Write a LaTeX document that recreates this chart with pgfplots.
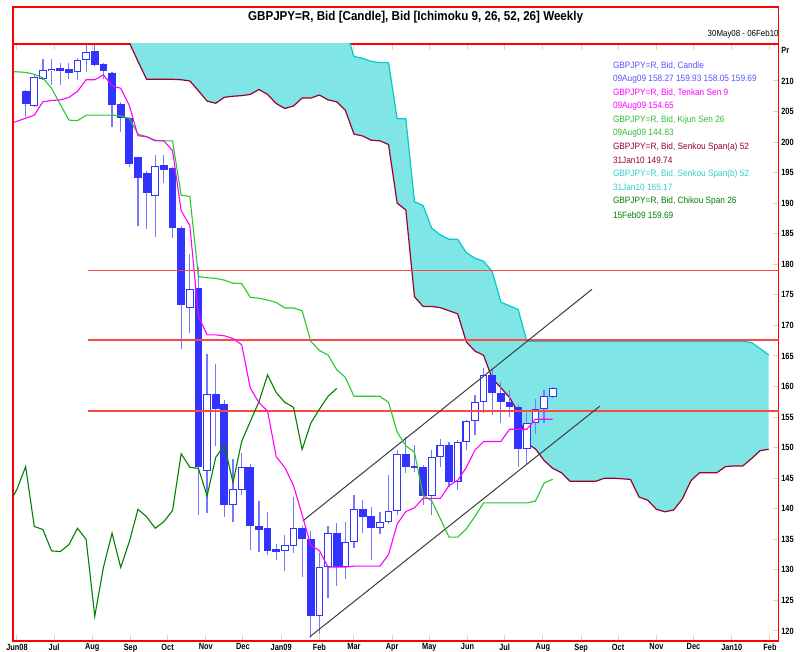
\documentclass[border=0pt]{standalone}
\usepackage{fontspec}
\setmainfont{Liberation Sans}
\newfontfamily\nf[FakeStretch=0.9]{Liberation Sans}
\newfontfamily\tf[FakeStretch=0.82]{Liberation Sans}
\usepackage{pgfplots}
\pgfplotsset{compat=1.18}
\usepackage{pgfplotstable}
\usepgfplotslibrary{fillbetween}

\definecolor{cblue}{RGB}{51,51,255}
\definecolor{wblue}{RGB}{120,120,255}
\definecolor{tenkan}{RGB}{255,0,255}
\definecolor{kijun}{RGB}{40,200,40}
\definecolor{spana}{RGB}{153,0,51}
\definecolor{spanb}{RGB}{0,204,204}
\definecolor{chikou}{RGB}{0,128,0}
\definecolor{cloud}{RGB}{127,229,229}
\definecolor{hline}{RGB}{255,70,70}
\definecolor{framered}{RGB}{255,0,0}
\definecolor{tickc}{RGB}{255,204,153}
\definecolor{legblue}{RGB}{85,85,255}
\definecolor{legmag}{RGB}{255,0,255}
\definecolor{leggreen}{RGB}{51,187,51}
\definecolor{legmaroon}{RGB}{153,0,51}
\definecolor{legcyan}{RGB}{51,204,204}
\definecolor{legdgreen}{RGB}{0,128,0}
\definecolor{chan}{RGB}{60,60,60}

% weekly candles, w = week index (0 = 08Jun08 ... 61 = 09Aug09)
\pgfplotstableread{
w o h l c
0 208.4 208.6 204.1 206.2
1 205.9 210.9 205.7 210.7
2 210.4 213.6 210.2 211.8
3 211.7 213.6 209.3 211.9
4 212.1 212.9 209.3 211.7
5 211.9 213.0 210.4 211.3
6 211.4 213.7 210.2 213.4
7 213.4 215.9 211.5 214.8
8 214.9 215.9 212.4 212.6
9 212.8 212.9 210.4 211.7
10 211.3 211.4 202.5 206.1
11 206.2 206.6 201.7 203.9
12 203.9 204.1 196.0 196.4
13 197.5 197.6 186.2 194.1
14 195.0 195.2 185.8 191.7
15 191.2 197.9 184.5 196.1
16 196.3 197.9 193.3 195.5
17 195.7 195.9 184.3 185.9
18 186.0 186.2 166.1 173.4
19 172.9 181.7 168.7 175.9
20 176.2 179.6 139.0 146.9
21 146.2 165.4 139.3 158.7
22 158.8 163.7 150.2 156.4
23 157.2 157.8 138.7 140.6
24 140.6 148.2 137.8 143.2
25 143.1 149.1 142.3 146.9
26 146.9 147.4 133.3 137.1
27 137.1 141.2 133.0 136.6
28 136.8 139.5 132.4 133.1
29 133.4 134.3 131.6 133.0
30 133.1 135.7 129.8 134.1
31 133.9 142.0 132.8 136.8
32 136.8 137.2 128.9 135.0
33 135.1 136.3 118.9 122.4
34 122.4 132.7 119.5 130.4
35 130.4 137.1 125.4 136.0
36 136.0 137.7 127.3 130.4
37 130.4 137.9 128.5 134.6
38 134.6 142.3 133.5 139.9
39 139.9 141.4 136.0 138.7
40 138.8 140.3 131.6 136.8
41 136.8 139.5 135.8 137.9
42 137.9 145.5 137.5 139.7
43 139.7 149.6 139.0 149.0
44 149.0 151.8 145.8 146.8
45 147.0 150.4 146.0 146.6
46 146.8 147.2 140.6 142.1
47 142.1 149.6 139.0 148.4
48 148.4 151.4 146.9 150.4
49 150.4 151.0 143.6 144.3
50 144.3 151.3 143.0 151.0
51 151.0 154.5 149.6 154.3
52 154.3 158.6 152.0 157.5
53 157.5 163.0 155.6 161.9
54 161.9 163.0 155.4 159.0
55 159.0 160.8 154.0 157.4
56 157.4 159.5 155.0 156.6
57 156.6 157.0 146.9 149.7
58 149.7 155.6 147.2 154.0
59 154.0 157.9 152.3 156.3
60 156.3 159.4 154.0 158.4
61 158.27 159.93 158.05 159.69
}\candles

% Tenkan Sen 9 and Kijun Sen 26
\pgfplotstableread{
w t k
-2 202.9 211.5
-1 203.4 211.5
0 203.9 211.4
1 204.4 211.1
2 206.6 210.5
3 206.8 208.8
4 206.9 206.2
5 207.3 203.6
6 208.3 203.5
7 210.2 204.4
8 210.2 204.4
9 211.0 204.4
10 209.2 204.4
11 208.8 204.3
12 206.0 203.9
13 201.05 201.3
14 200.85 200.9
15 200.2 200.3
16 200.2 200.2
17 198.6 200.2
18 188.75 191.3
19 186.35 191.1
20 171.55 178.0
21 168.45 177.8
22 168.45 177.7
23 168.3 177.4
24 167.85 176.9
25 166.85 176.85
26 159.75 174.6
27 157.35 174.45
28 156.0 174.15
29 148.5 173.75
30 146.75 172.85
31 143.8 172.85
32 139.0 172.4
33 134.0 167.4
34 133.15 165.9
35 130.45 165.15
36 130.45 162.75
37 130.45 161.5
38 130.6 158.4
39 130.6 158.4
40 130.6 158.4
41 130.6 158.4
42 132.5 157.4
43 137.5 152.55
44 139.55 150.3
45 140.15 149.25
46 141.7 142.15
47 141.7 141.3
48 141.7 138.35
49 143.8 135.35
50 144.65 135.35
51 146.75 136.7
52 149.6 138.75
53 151.0 140.95
54 151.0 140.95
55 151.0 140.95
56 153.0 140.95
57 153.0 140.95
58 153.0 140.95
59 154.65 141.25
60 154.65 144.2
61 154.65 144.83
}\tk

% Senkou Span (a) and (b), plotted 25 weeks ahead
\pgfplotstableread{
w a b
12 216.3 222
13 213.2 222
14 210.27 222
15 210.27 222
16 210.27 222
17 210.27 222
18 210.2 222
19 210.0 222
20 208.4 222
21 206.7 222
22 206.35 222
23 207.33 222
24 207.5 222
25 207.6 222
26 207.8 222
27 208.6 222
28 207.8 222
29 206.3 222
30 205.5 222
31 205.9 222
32 207.2 222
33 207.2 222
34 207.7 222
35 206.9 222
36 206.6 222
37 205.2 218.5
38 201.3 214.0
39 201.0 213.7
40 200.3 213.2
41 200.2 213.0
42 199.6 213.0
43 190.0 203.8
44 188.9 203.8
45 174.7 190.25
46 173.1 189.6
47 173.1 185.9
48 172.9 184.8
49 172.4 184.1
50 171.9 184.1
51 167.3 181.9
52 165.8 181.0
53 165.1 180.5
54 161.3 178.8
55 159.8 173.8
56 158.2 173.2
57 155.8 172.6
58 150.7 167.4
59 149.8 167.4
60 147.9 167.4
61 146.6 167.4
62 145.9 167.4
63 144.5 167.4
64 144.5 167.4
65 144.5 167.4
66 144.5 167.4
67 145.0 167.4
68 145.0 167.4
69 144.9 167.4
70 144.8 167.4
71 141.9 167.4
72 141.4 167.4
73 139.9 167.4
74 139.5 167.4
75 139.8 167.4
76 141.6 167.4
77 144.6 167.4
78 145.9 167.4
79 145.9 167.4
80 145.9 167.4
81 146.9 167.4
82 147.0 167.4
83 147.0 167.4
84 148.2 167.2
85 149.5 166.2
86 149.74 165.17
}\senkou

\newcommand{\legtxt}[1]{\nf\fontsize{4.6pt}{5.5pt}\selectfont #1}

\begin{document}
\begin{tikzpicture}
% outer frame round the title
\draw[framered, line width=0.9pt] (6.65pt,304pt) -- (6.65pt,322.6pt) -- (389.25pt,322.6pt) -- (389.25pt,304pt);
\node[font=\nf\bfseries\fontsize{6.45pt}{7.5pt}\selectfont, anchor=center, inner sep=0pt] at (207.8pt,317.5pt)
  {GBPJPY=R, Bid [Candle], Bid [Ichimoku 9, 26, 52, 26] Weekly};
\node[font=\nf\fontsize{4.4pt}{5pt}\selectfont, anchor=east, inner sep=0pt] at (389.5pt,309pt)
  {30May08 - 06Feb10};

\begin{axis}[
  at={(6.65pt,5.5pt)}, anchor=south west,
  scale only axis, width=382.6pt, height=298.5pt,
  xmin=-1.428, xmax=87.13, ymin=118.36, ymax=216.05,
  set layers,
  axis line style={framered, line width=0.9pt},
  xtick={-1,3.2857,7.7143,12.1429,16.4286,20.8571,25.1429,29.5714,34,38,42.4286,46.7143,51.1429,55.4286,59.8571,64.2857,68.5714,73,77.2857,81.7143,86.1429},
  xticklabels={Jun08,Jul,Aug,Sep,Oct,Nov,Dec,Jan09,Feb,Mar,Apr,May,Jun,Jul,Aug,Sep,Oct,Nov,Dec,Jan10,Feb},
  xtick pos=both, xticklabel pos=lower,
  ytick={120,125,...,210},
  ytick pos=right, yticklabel pos=right,
  tick align=inside, major tick length=3pt,
  tick style={color=tickc, line width=0.5pt},
  tick label style={font=\tf\bfseries\fontsize{4.5pt}{5pt}\selectfont, text=black},
  /pgf/number format/assume math mode=true,
  xticklabel style={inner sep=1.2pt},
  yticklabel style={inner sep=1.2pt},
  candle/.style={only marks, mark=*, mark size=0.01pt, mark options={opacity=0}, forget plot},
]
% cloud
\addplot[spana, line width=0.6pt, name path=spanA] table[x=w, y=a] {\senkou};
\addplot[spanb, line width=0.6pt, name path=spanB] table[x=w, y=b] {\senkou};
\addplot[cloud] fill between[of=spanA and spanB];

% candles: wicks
\addplot[candle,
  error bars/.cd, y dir=plus, y explicit, error mark=none,
  error bar style={draw=wblue, line width=0.6pt}]
  table[x=w, y=l, y error expr=\thisrow{h}-\thisrow{l}] {\candles};
% bodies (outline / filled)
\addplot[candle,
  error bars/.cd, y dir=plus, y explicit, error mark=none,
  error bar style={draw=cblue, line width=3.9pt}]
  table[x=w, y expr={min(\thisrow{o},\thisrow{c})}, y error expr={abs(\thisrow{c}-\thisrow{o})}] {\candles};
% hollow inside of rising candles
\addplot[candle,
  restrict expr to domain={\thisrow{c}-\thisrow{o}}{0:1000},
  error bars/.cd, y dir=plus, y explicit, error mark=none,
  error bar style={draw=white, line width=2.8pt, shorten <=0.5pt, shorten >=0.5pt}]
  table[x=w, y=o, y error expr={\thisrow{c}-\thisrow{o}}] {\candles};

% horizontal levels
\addplot[hline, line width=0.9pt] coordinates {(7.27,179.0) (88,179.0)};
\addplot[hline, line width=0.9pt] coordinates {(7.27,167.6) (88,167.6)};
\addplot[hline, line width=0.9pt] coordinates {(7.27,156.0) (88,156.0)};

% channel
\addplot[chan, line width=0.5pt] coordinates {(32.07,138.0) (65.54,175.9)};
\addplot[chan, line width=0.5pt] coordinates {(32.9,119.07) (66.47,156.8)};

% ichimoku lines
\addplot[chikou, line width=0.55pt] table[x expr=\thisrow{w}-25, y=c] {\candles};
\addplot[kijun, line width=0.55pt] table[x=w, y=k] {\tk};
\addplot[tenkan, line width=0.55pt] table[x=w, y=t] {\tk};
\end{axis}

\node[font=\tf\bfseries\fontsize{4.5pt}{5pt}\selectfont, anchor=west, inner sep=0pt] at (390.5pt,301pt) {Pr};

% legend text
\begin{scope}[every node/.style={anchor=west, inner sep=0pt}]
\node[text=legblue]   at (306.3pt,293pt)    {\legtxt{GBPJPY=R, Bid, Candle}};
\node[text=legblue]   at (306.3pt,286.2pt)  {\legtxt{09Aug09 158.27 159.93 158.05 159.69}};
\node[text=legmag]    at (306.3pt,279.5pt)  {\legtxt{GBPJPY=R, Bid, Tenkan Sen 9}};
\node[text=legmag]    at (306.3pt,272.7pt)  {\legtxt{09Aug09 154.65}};
\node[text=leggreen]  at (306.3pt,265.9pt)  {\legtxt{GBPJPY=R, Bid, Kijun Sen 26}};
\node[text=leggreen]  at (306.3pt,259.2pt)  {\legtxt{09Aug09 144.83}};
\node[text=legmaroon] at (306.3pt,252.4pt)  {\legtxt{GBPJPY=R, Bid, Senkou Span(a) 52}};
\node[text=legmaroon] at (306.3pt,245.6pt)  {\legtxt{31Jan10 149.74}};
\node[text=legcyan]   at (306.3pt,238.9pt)  {\legtxt{GBPJPY=R, Bid, Senkou Span(b) 52}};
\node[text=legcyan]   at (306.3pt,232.1pt)  {\legtxt{31Jan10 165.17}};
\node[text=legdgreen] at (306.3pt,225.3pt)  {\legtxt{GBPJPY=R, Bid, Chikou Span 26}};
\node[text=legdgreen] at (306.3pt,218.6pt)  {\legtxt{15Feb09 159.69}};
\end{scope}
\pgfresetboundingbox
\useasboundingbox (0pt,0pt) rectangle (400pt,326pt);
\end{tikzpicture}
\end{document}
